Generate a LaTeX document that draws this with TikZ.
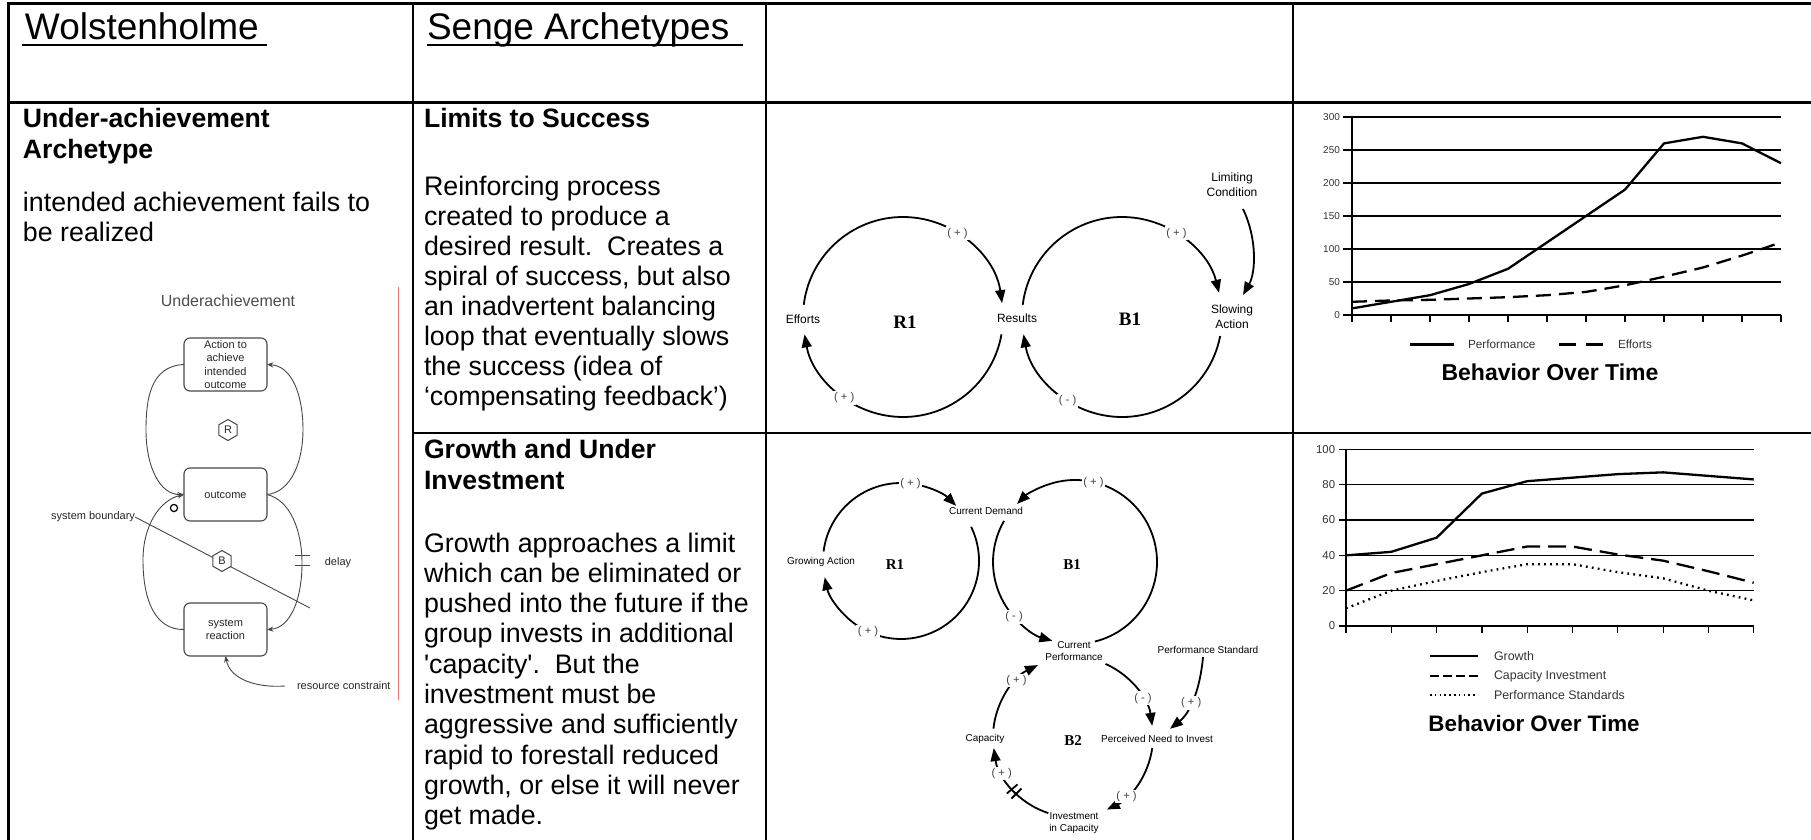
\documentclass[tikz,border=0pt]{standalone}
\usepackage{fontspec}
\setmainfont{Liberation Sans}
\newfontfamily\loopfont{Liberation Serif}
\usetikzlibrary{arrows.meta,shapes.geometric,calc}
\definecolor{sketchink}{RGB}{70,70,70}
\definecolor{marginred}{RGB}{238,120,120}

\begin{document}
\begin{tikzpicture}[x=0.5pt,y=-0.5pt,
  every node/.style={inner sep=0pt,outer sep=0pt},
  frame/.style={line width=1.2pt},
  framethick/.style={line width=1.5pt},
  headtext/.style={anchor=base west,font=\fontsize{18.5}{22}\selectfont},
  headrule/.style={line width=1.35pt},
  body/.style={anchor=base west,font=\fontsize{13.4}{15.2}\selectfont},
  bodybold/.style={anchor=base west,font=\fontsize{13.3}{15.2}\selectfont\bfseries},
  ubox/.style={draw=sketchink,line width=0.55pt,rounded corners=3pt,
    minimum width=41.5pt,minimum height=26.5pt,align=center,
    font=\fontsize{5.5}{6.65}\selectfont,text=black!85},
  uline/.style={draw=sketchink,line width=0.45pt},
  uarrow/.style={uline,-{Stealth[length=3.2pt,width=2.6pt]}},
  ulabel/.style={font=\fontsize{5.5}{6.6}\selectfont,text=black!85},
  hexa/.style={draw=sketchink,fill=white,line width=0.5pt,regular polygon,
    regular polygon sides=6,shape border rotate=30,minimum size=10.5pt,
    font=\fontsize{5.5}{5.5}\selectfont,text=black!85},
  link/.style={line width=0.9pt,-{Triangle[length=6.5pt,width=5pt]}},
  varA/.style={font=\fontsize{6}{7.6}\selectfont,align=center},
  varB/.style={font=\fontsize{5}{6}\selectfont,align=center},
  sign/.style={fill=white,inner sep=0.8pt,font=\fontsize{5.6}{5.6}\selectfont,text=black!75},
  loopA/.style={font=\loopfont\bfseries\fontsize{9.5}{9.5}\selectfont},
  loopB/.style={font=\loopfont\bfseries\fontsize{7.5}{7.5}\selectfont},
  gridline/.style={line width=0.6pt},
  series/.style={line width=1.15pt,line join=round},
  ticklabel/.style={anchor=east,font=\fontsize{5}{5}\selectfont,text=black!80},
  ticklabelb/.style={anchor=east,font=\fontsize{5.7}{5.7}\selectfont,text=black!80},
  legendtext/.style={anchor=west,font=\fontsize{5.9}{6}\selectfont,text=black!80},
  legendtextb/.style={anchor=west,font=\fontsize{6.2}{6.2}\selectfont,text=black!80},
  charttitle/.style={font=\fontsize{11.5}{12}\selectfont\bfseries},
]
\useasboundingbox (0,0) rectangle (1811,840);

% ---------- table rules ----------
\draw[framethick] (7.5,4) -- (1811,4);
\draw[framethick] (7.5,103) -- (1811,103);
\draw[frame] (8.5,2.5) -- (8.5,840);
\draw[frame] (413,2.5) -- (413,840);
\draw[frame] (766,2.5) -- (766,840);
\draw[frame] (1293,2.5) -- (1293,840);
\draw[frame] (413,433) -- (1811,433);
\draw[marginred,line width=0.5pt] (398,287) -- (398,700);

% ---------- header row ----------
\node[headtext] (hW) at (25,40) {Wolstenholme};
\draw[headrule] (22,45) -- (267,45);
\node[headtext] (hS) at (427,40) {Senge Archetypes};
\draw[headrule] (427,45) -- (743,45);

% ---------- first column text ----------
\node[bodybold] (w1) at (23,128) {Under-achievement};
\node[bodybold] (w2) at (23,159) {Archetype};
\node[body] (w3) at (23,212) {intended achievement fails to};
\node[body] (w4) at (23,242) {be realized};

% ---------- underachievement sketch ----------
\node[ulabel,font=\fontsize{8}{8}\selectfont,text=black!70] (utitle) at (228,301) {Underachievement};
\node[ubox] (act) at (225.5,364.5) {Action to\\achieve\\intended\\outcome};
\node[ubox] (out) at (225.5,494.5) {outcome};
\node[ubox] (sys) at (225.5,629.5) {system\\reaction};

\draw[uarrow] (act.west) .. controls (150,366) and (146,400) .. (146,430)
  .. controls (146,467) and (160,495) .. (out.west);
\draw[uarrow] (out.east) .. controls (292,492) and (303,460) .. (303,430)
  .. controls (303,395) and (292,366) .. (act.east);
\draw[uarrow] (sys.west) .. controls (155,630) and (143,600) .. (143,560)
  .. controls (143,525) and (160,500) .. (out.west);
\draw[uarrow] (out.east) .. controls (290,500) and (302,530) .. (302,563)
  .. controls (302,600) and (290,628) .. (sys.east);
\draw[uline] (295,555) -- (310,555) (295,565) -- (310,565);
\node[ulabel] (delay) at (338,563) {delay};

\node[ulabel,anchor=east] (sb) at (135,517) {system boundary};
\coordinate (sbend) at (310,608);
\draw[uline] (sb.east) -- (sbend);
\node[hexa] (hR) at (228,430) {R};
\node[hexa] (hB) at (222,561) {B};
\node[draw=black,circle,line width=0.6pt,minimum size=3.6pt] (neg) at (174,508) {};

\node[ulabel,anchor=west] (rc) at (297,686) {resource constraint};
\draw[uarrow] ([xshift=-6pt]rc.west) .. controls (258,688) and (230,680) .. (sys.south);

% ---------- second column text ----------
\node[bodybold] (t1) at (424,128) {Limits to Success};
\node[body] (a1) at (424,196) {Reinforcing process};
\node[body] (a2) at (424,225.9) {created to produce a};
\node[body] (a3) at (424,255.8) {desired result.\ \ Creates a};
\node[body] (a4) at (424,285.7) {spiral of success, but also};
\node[body] (a5) at (424,315.6) {an inadvertent balancing};
\node[body] (a6) at (424,345.5) {loop that eventually slows};
\node[body] (a7) at (424,375.4) {the success (idea of};
\node[body] (a8) at (424,405.3) {`compensating feedback')};

\node[bodybold] (t2) at (424,458) {Growth and Under};
\node[bodybold] (t3) at (424,489) {Investment};
\node[body] (b1) at (424,552) {Growth approaches a limit};
\node[body] (b2) at (424,582.3) {which can be eliminated or};
\node[body] (b3) at (424,612.6) {pushed into the future if the};
\node[body] (b4) at (424,642.9) {group invests in additional};
\node[body] (b5) at (424,673.2) {\textquotesingle capacity\textquotesingle.\ \ But the};
\node[body] (b6) at (424,703.5) {investment must be};
\node[body] (b7) at (424,733.8) {aggressive and sufficiently};
\node[body] (b8) at (424,764.1) {rapid to forestall reduced};
\node[body] (b9) at (424,794.4) {growth, or else it will never};
\node[body] (b10) at (424,824.7) {get made.};

% ---------- limits to success loops ----------
\coordinate (cR1) at (903,317);
\coordinate (cB1) at (1122,317);
\draw[link] ($(cR1)+(187:100)$) arc[start angle=187,end angle=352,radius=100];
\draw[link] ($(cR1)+(10:100)$) arc[start angle=10,end angle=170,radius=100];
\draw[link] ($(cB1)+(187:100)$) arc[start angle=187,end angle=346,radius=100];
\draw[link] ($(cB1)+(11:100)$) arc[start angle=11,end angle=170,radius=100];

\node[varA] (eff) at (803,319) {Efforts};
\node[varA] (res) at (1017,318) {Results};
\node[varA] (slow) at (1232,317) {Slowing\\Action};
\node[varA] (lim) at (1232,185) {Limiting\\Condition};
\node[loopA] (r1a) at (905,322) {R1};
\node[loopA] (b1a) at (1130,319) {B1};
\draw[link] ([xshift=5.5pt,yshift=-6pt]lim.south) .. controls (1257,238) and (1256,272) .. ([xshift=5.5pt,yshift=5pt]slow.north);

\node[sign] (s1) at ($(cR1)+(303:100)$) {( + )};
\node[sign] (s2) at ($(cR1)+(126:100)$) {( + )};
\node[sign] (s3) at ($(cB1)+(303:100)$) {( + )};
\node[sign] (s4) at ($(cB1)+(123:100)$) {( - )};

% ---------- growth and under investment loops ----------
\coordinate (cR2) at (901,561);
\coordinate (cB2) at (1075,562);
\coordinate (cB3) at (1073,737);
\draw[link] ($(cR2)+(187:78)$) arc[start angle=187,end angle=315,radius=78];
\draw[link] ($(cR2)+(-26:78)$) arc[start angle=-26,end angle=168,radius=78];
\draw[link] ($(cB2)+(76:82)$) arc[start angle=76,end angle=-135,radius=82];
\draw[link] ($(cB2)+(210:82)$) arc[start angle=210,end angle=106,radius=82];
\draw[link] ($(cB3)+(-66:80)$) arc[start angle=-66,end angle=-8,radius=80];
\draw[link] ($(cB3)+(8:80)$) arc[start angle=8,end angle=65,radius=80];
\draw[link] ($(cB3)+(108:80)$) arc[start angle=108,end angle=172,radius=80];
\draw[link] ($(cB3)+(186:80)$) arc[start angle=186,end angle=244,radius=80];
% delay mark on the investment link
\draw[line width=0.9pt] ($(cB3)+(135:73)$) -- ($(cB3)+(135:87)$)
  ($(cB3)+(139.5:73)$) -- ($(cB3)+(139.5:87)$);

\node[varB] (cd) at (986,511) {Current Demand};
\node[varB] (ga) at (821,562) {Growing Action};
\node[varB] (cp) at (1074,651) {Current\\Performance};
\node[varB] (ps) at (1208,650) {Performance Standard};
\node[varB] (cap) at (985,739) {Capacity};
\node[varB] (pn) at (1157,739) {Perceived Need to Invest};
\node[varB] (inv) at (1074,823) {Investment\\in Capacity};
\node[loopB] (r1b) at (895,565) {R1};
\node[loopB] (b1b) at (1072,565) {B1};
\node[loopB] (b2b) at (1073,741) {B2};
\draw[link] ([xshift=-2.5pt,yshift=-1.75pt]ps.south) .. controls (1200,690) and (1190,713) ..
  node[sign,pos=0.55] (s12) {( + )} ([xshift=6.5pt,yshift=3.25pt]pn.north);

\node[sign] (s5) at ($(cR2)+(277:78)$) {( + )};
\node[sign] (s6) at ($(cR2)+(115:78)$) {( + )};
\node[sign] (s7) at ($(cB2)+(-77:82)$) {( + )};
\node[sign] (s8) at ($(cB2)+(138:82)$) {( - )};
\node[sign] (s9) at ($(cB3)+(-29:80)$) {( - )};
\node[sign] (s10) at ($(cB3)+(48:80)$) {( + )};
\node[sign] (s11) at ($(cB3)+(153:80)$) {( + )};
\node[sign] (s13) at ($(cB3)+(225:80)$) {( + )};

% ---------- chart: limits to success ----------
\begin{scope}[xshift=676pt,yshift=-157.5pt,x=19.5pt,y=0.33pt]
  \foreach \v in {0,50,...,300}{
    \draw[gridline] (-0.23,\v) -- (11,\v);
    \node[ticklabel] (ya\v) at (-0.31,\v) {\v};
  }
  \draw[gridline] (0,300) -- (0,-10.6);
  \foreach \i in {1,...,11} \draw[gridline] (\i,0) -- (\i,-10.6);
  \draw[series] plot coordinates {(0,10) (1,20) (2,30) (3,47) (4,70) (5,110)
    (6,150) (7,190) (8,260) (9,270) (10,260) (11,230)};
  \draw[series,dash pattern=on 7.5pt off 4pt] plot coordinates {(0,20) (1,22) (2,23)
    (3,25) (4,27) (5,30) (6,35) (7,45) (8,58) (9,72) (10,90) (11,110)};
\end{scope}
\draw[series,line width=1.5pt] (1410,344) -- (1454,344);
\node[legendtext] (lg1) at (1468,344) {Performance};
\draw[series,line width=1.5pt,dash pattern=on 8.5pt off 5pt] (1559,344) -- (1603,344);
\node[legendtext] (lg2) at (1618,344) {Efforts};
\node[charttitle] (bt1) at (1550,372) {Behavior Over Time};

% ---------- chart: growth and under investment ----------
\begin{scope}[xshift=673pt,yshift=-313pt,x=22.65pt,y=0.883pt]
  \foreach \v in {0,20,...,100}{
    \draw[gridline] (-0.155,\v) -- (9,\v);
    \node[ticklabelb] (yb\v) at (-0.24,\v) {\v};
  }
  \draw[gridline] (0,100) -- (0,-4);
  \foreach \i in {1,...,9} \draw[gridline] (\i,0) -- (\i,-4);
  \draw[series] plot coordinates {(0,40) (1,42) (2,50) (3,75) (4,82) (5,84)
    (6,86) (7,87) (8,85) (9,83)};
  \draw[series,dash pattern=on 9pt off 4pt] plot coordinates {(0,20) (1,30) (2,35)
    (3,40) (4,45) (5,45) (6,40.5) (7,37) (8,31) (9,24.5)};
  \draw[series,dash pattern=on 0.9pt off 2.1pt] plot coordinates {(0,10) (1,20)
    (2,25.5) (3,30.5) (4,35) (5,35) (6,30.5) (7,27) (8,20) (9,14.5)};
\end{scope}
\draw[series,line width=1.4pt] (1430,656) -- (1478,656);
\node[legendtextb] (lg3) at (1494,656) {Growth};
\draw[series,line width=1.4pt,dash pattern=on 4.5pt off 2pt] (1430,676) -- (1478,676);
\node[legendtextb] (lg4) at (1494,676) {Capacity Investment};
\draw[series,line width=1.2pt,dash pattern=on 0.8pt off 1.6pt] (1430,695) -- (1478,695);
\node[legendtextb] (lg5) at (1494,695) {Performance Standards};
\node[charttitle,font=\fontsize{11.2}{12}\selectfont\bfseries] (bt2) at (1534,723) {Behavior Over Time};

\end{tikzpicture}
\end{document}
